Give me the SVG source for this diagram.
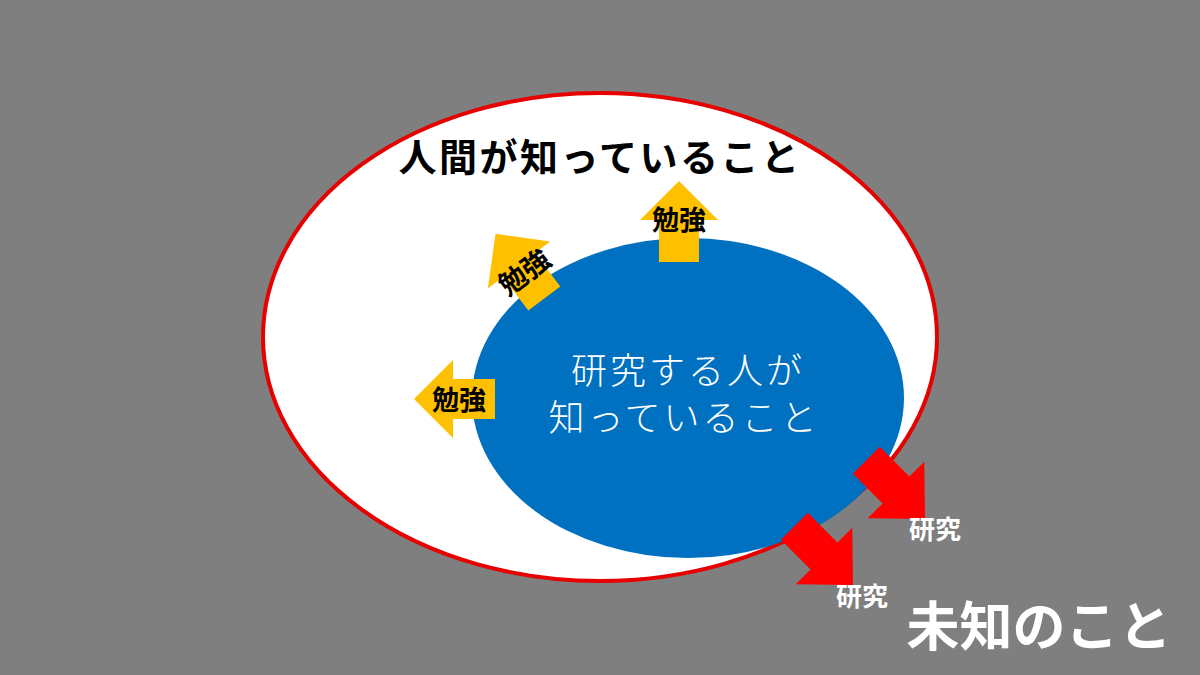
<svg xmlns="http://www.w3.org/2000/svg" width="1200" height="675" viewBox="0 0 1200 675">
<defs>
<style>
.jp{font-family:"Noto Sans CJK JP","Noto Sans",sans-serif;text-anchor:middle}
.b{font-weight:bold}
.study{fill:#ffc000}
.res{fill:#ff0000}
</style>
<path id="arrow" d="M0,-39 L39,0 L20,0 L20,42 L-20,42 L-20,0 L-39,0 Z"/>
<path id="rarrow" d="M0,-41 L40,0 L19,0 L19,42 L-19,42 L-19,0 L-40,0 Z"/>
</defs>
<rect width="1200" height="675" fill="#7f7f7f"/>
<g id="known-by-humans">
<ellipse cx="600" cy="337" rx="337" ry="244" fill="#ffffff" stroke="#e60000" stroke-width="4"/>
<text class="jp b" x="600" y="171" font-size="38" letter-spacing="2.5" fill="#000">人間が知っていること</text>
</g>
<g id="known-by-researchers">
<ellipse cx="688" cy="398" rx="216" ry="160" fill="#0070c0"/>
<text class="jp" x="688" y="384" font-size="36" font-weight="300" letter-spacing="3" fill="#ffffff">研究する人が</text>
<text class="jp" x="684" y="431" font-size="36" font-weight="300" letter-spacing="3" fill="#ffffff">知っていること</text>
</g>
<g id="connectors">
<g id="study-up" transform="translate(679,220)">
<use href="#arrow" class="study"/>
<text class="jp b" x="0" y="10" font-size="27" fill="#000">勉強</text>
</g>
<g id="study-upleft" transform="translate(519,265) rotate(-37)">
<use href="#arrow" class="study"/>
<text class="jp b" x="0" y="19" font-size="28" fill="#000">勉強</text>
</g>
<g id="study-left" transform="translate(453,399) rotate(-90)">
<use href="#arrow" class="study"/>
</g>
<text class="jp b" x="459" y="410" font-size="27" fill="#000">勉強</text>
<g id="research-1" transform="translate(896,490) rotate(135)">
<use href="#rarrow" class="res"/>
</g>
<g id="research-2" transform="translate(824,556) rotate(135)">
<use href="#rarrow" class="res"/>
</g>
<text class="jp b" x="935" y="539" font-size="26" fill="#ffffff">研究</text>
<text class="jp b" x="862" y="606" font-size="26" fill="#ffffff">研究</text>
</g>
<g id="unknown">
<text class="jp b" x="1039" y="646" font-size="53" fill="#ffffff">未知のこと</text>
</g>
</svg>
